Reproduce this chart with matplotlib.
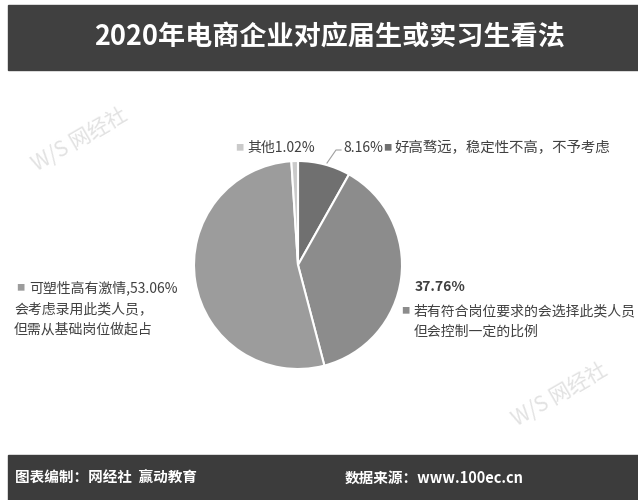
import matplotlib.pyplot as plt
from matplotlib.patches import Rectangle

plt.rcParams['font.family'] = ['Noto Sans CJK SC', 'DejaVu Sans']

# 数据
title = '2020年电商企业对应届生或实习生看法'
values = [8.16, 37.76, 53.06, 1.02]
colors = ['#707070', '#8c8c8c', '#9c9c9c', '#cacaca']
source_left = '图表编制：网经社  赢动教育'
source_right = '数据来源：www.100ec.cn'

W, H = 638, 500
fig = plt.figure(figsize=(W / 100, H / 100), dpi=100)
fig.patch.set_facecolor('white')

def fx(px):
    return px / W

def fy(py):
    return 1 - py / H

# 标题栏
fig.patches.append(Rectangle((fx(8), fy(70)), 1 - fx(8), 65 / H,
                             transform=fig.transFigure, color='#404040', zorder=0))
fig.text(fx(330), fy(38), title, color='white', fontsize=19.5, fontweight='bold',
         ha='center', va='center')

# 底栏
fig.patches.append(Rectangle((fx(8), 0), 1 - fx(8), 45 / H,
                             transform=fig.transFigure, color='#3c3c3c', zorder=0))
fig.text(fx(15), fy(478), source_left, color='white', fontsize=10.5,
         fontweight='bold', va='center')
fig.text(fx(345), fy(478), source_right, color='white', fontsize=10.5,
         fontweight='bold', va='center')

# 饼图
r = 104
ax = fig.add_axes([fx(298 - r), fy(265 + r), 2 * r / W, 2 * r / H])
ax.pie(values, colors=colors, startangle=90, counterclock=False,
       wedgeprops=dict(edgecolor='white', linewidth=1.5))
ax.set_xlim(-1, 1)
ax.set_ylim(-1, 1)
ax.axis('off')

tc = '#404040'
fs = 10

# 标签
fig.text(fx(235), fy(148), '■', color=colors[3], fontsize=6, va='center')
fig.text(fx(247), fy(148), '其他1.02%', color=tc, fontsize=fs, va='center')

fig.text(fx(343), fy(148), '8.16%', color=tc, fontsize=fs, va='center')
fig.text(fx(383), fy(148), '■', color=colors[0], fontsize=6, va='center')
fig.text(fx(395), fy(148), '好高骛远，稳定性不高，不予考虑', color=tc, fontsize=10.4, va='center')
fig.add_artist(plt.Line2D([fx(327), fx(336), fx(341)], [fy(163), fy(150), fy(150)],
                          color='#a0a0a0', linewidth=0.8))

fig.text(fx(415), fy(287), '37.76%', color=tc, fontsize=fs, fontweight='bold', va='center')
fig.text(fx(401), fy(311), '■', color=colors[1], fontsize=6, va='center')
fig.text(fx(414), fy(311), '若有符合岗位要求的会选择此类人员', color=tc, fontsize=fs, va='center')
fig.text(fx(414), fy(332), '但会控制一定的比例', color=tc, fontsize=fs, va='center')

fig.text(fx(16), fy(288), '■', color=colors[2], fontsize=6, va='center')
fig.text(fx(29), fy(288), '可塑性高有激情,53.06%', color=tc, fontsize=fs, va='center')
fig.text(fx(14), fy(309), '会考虑录用此类人员，', color=tc, fontsize=fs, va='center')
fig.text(fx(14), fy(330), '但需从基础岗位做起占', color=tc, fontsize=fs, va='center')

# 水印
fig.text(fx(80), fy(140), 'W/S 网经社', color='#e2e2e2', fontsize=15,
         rotation=30, ha='center', va='center')
fig.text(fx(560), fy(395), 'W/S 网经社', color='#e2e2e2', fontsize=15,
         rotation=30, ha='center', va='center')

fig.savefig('out.png', dpi=100)
